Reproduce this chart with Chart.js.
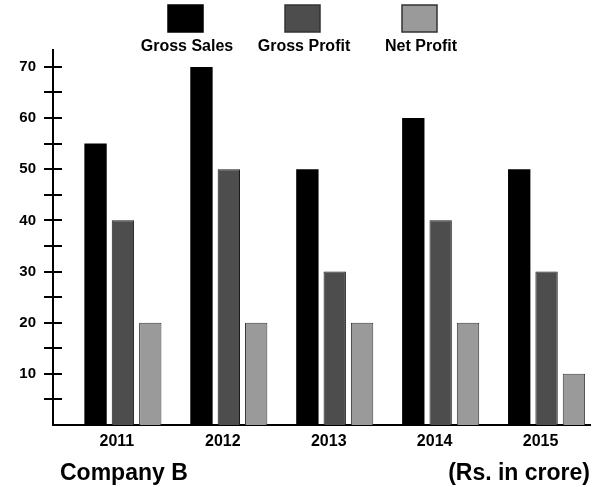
<!DOCTYPE html>
<html><head><meta charset="utf-8">
<script src="https://cdn.jsdelivr.net/npm/chart.js@4"></script>
<style>html,body{margin:0;padding:0;background:#fff}#wrap{width:600px;height:487px;position:relative}</style>
</head><body><div id="wrap"><canvas id="c" width="600" height="487"></canvas></div>
<script>
const years = ['2011', '2012', '2013', '2014', '2015'];
const seriesNames = ['Gross Sales', 'Gross Profit', 'Net Profit'];
const grossSales = [55, 70, 50, 60, 50];
const grossProfit = [40, 50, 30, 40, 30];
const netProfit = [20, 20, 20, 20, 10];
const yTickValues = [5, 10, 15, 20, 25, 30, 35, 40, 45, 50, 55, 60, 65, 70];
const yLabelValues = [10, 20, 30, 40, 50, 60, 70];
const footerLeft = 'Company B';
const footerRight = '(Rs. in crore)';

const FONT = '"Liberation Sans", Arial, sans-serif';
const toPoints = arr => arr.map((v, i) => ({x: i, y: v}));

const innerTicks = {
  id: 'innerTicks',
  afterDraw(chart) {
    const y = chart.scales.y, ctx = chart.ctx;
    ctx.save();
    ctx.strokeStyle = '#000'; ctx.lineWidth = 2;
    y.ticks.forEach(t => {
      const p = Math.round(y.getPixelForValue(t.value));
      ctx.beginPath(); ctx.moveTo(y.right, p); ctx.lineTo(y.right + 9, p); ctx.stroke();
    });
    ctx.restore();
  }
};

const topLegend = {
  id: 'topLegend',
  afterDraw(chart) {
    const ctx = chart.ctx;
    ctx.save();
    chart.data.datasets.forEach((ds, i) => {
      const cx = 185 + i * 117;
      ctx.fillStyle = ds.backgroundColor;
      ctx.fillRect(cx - 17, 5, 35, 27);
      ctx.strokeStyle = i === 0 ? '#000' : '#333';
      ctx.lineWidth = 1.5;
      ctx.strokeRect(cx - 17, 5, 35, 27);
      ctx.fillStyle = '#000';
      ctx.font = 'bold 16px ' + FONT;
      ctx.textAlign = 'center'; ctx.textBaseline = 'alphabetic';
      ctx.fillText(ds.label, cx + 2, 51);
    });
    ctx.restore();
  }
};

const footer = {
  id: 'footer',
  afterDraw(chart) {
    const ctx = chart.ctx;
    ctx.save();
    ctx.fillStyle = '#000';
    ctx.font = 'bold 23px ' + FONT;
    ctx.textBaseline = 'alphabetic';
    ctx.textAlign = 'left'; ctx.fillText(footerLeft, 60, 480);
    ctx.textAlign = 'right'; ctx.fillText(footerRight, 590, 480);
    ctx.restore();
  }
};

new Chart(document.getElementById('c'), {
  type: 'bar',
  data: {
    datasets: [
      {label: seriesNames[0], data: toPoints(grossSales), backgroundColor: '#000000', borderWidth: 0},
      {label: seriesNames[1], data: toPoints(grossProfit), backgroundColor: '#4d4d4d', borderColor: '#1a1a1a', borderWidth: 1},
      {label: seriesNames[2], data: toPoints(netProfit), backgroundColor: '#9a9a9a', borderColor: '#3a3a3a', borderWidth: 1}
    ]
  },
  options: {
    responsive: false,
    devicePixelRatio: 1,
    animation: false,
    barPercentage: 0.817,
    categoryPercentage: 0.775,
    layout: {padding: {top: 50, right: 10, left: 0, bottom: 0}},
    plugins: {legend: {display: false}, tooltip: {enabled: false}},
    scales: {
      x: {
        type: 'linear', min: -0.66, max: 4.41, position: 'bottom', offset: false,
        afterBuildTicks: s => { s.ticks = years.map((_, i) => ({value: i})); },
        afterFit: s => { s.height = 62; },
        ticks: {
          callback: v => years[v], color: '#000', padding: 7, labelOffset: -6,
          maxRotation: 0, autoSkip: false, font: {family: FONT, size: 16, weight: 'bold'}
        },
        grid: {display: false, drawTicks: false, offset: false},
        border: {display: true, color: '#000', width: 2}
      },
      y: {
        min: 0, max: 73.3,
        afterBuildTicks: s => { s.ticks = yTickValues.map(v => ({value: v})); },
        afterFit: s => { s.width = 53; },
        ticks: {
          callback: v => yLabelValues.includes(v) ? String(v) : '',
          color: '#000', padding: 8, autoSkip: false,
          font: {family: FONT, size: 15, weight: 'bold'}
        },
        grid: {drawOnChartArea: false, drawTicks: true, tickLength: 9, color: '#000', lineWidth: 2},
        border: {display: true, color: '#000', width: 2}
      }
    }
  },
  plugins: [innerTicks, topLegend, footer]
});
</script>
</body></html>
